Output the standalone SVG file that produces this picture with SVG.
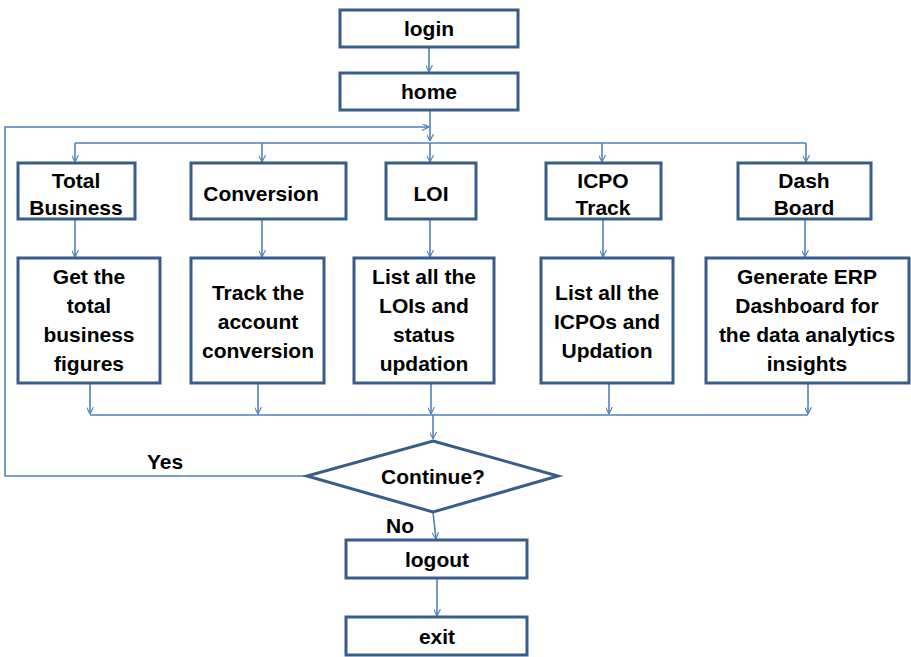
<svg xmlns="http://www.w3.org/2000/svg" width="911" height="657" viewBox="0 0 911 657">
  <style>
    .box { fill: #ffffff; stroke: #385d8a; stroke-width: 3; }
    .conn { fill: none; stroke: #4f81bd; stroke-width: 1.6; }
    .lbl { font-family: "Liberation Sans", Arial, sans-serif; font-weight: bold; font-size: 21px; fill: #000; text-anchor: middle; }
  </style>
  <defs>
    <marker id="arr" viewBox="0 0 10 10" refX="10" refY="5" markerWidth="7" markerHeight="7" orient="auto" markerUnits="userSpaceOnUse">
      <path d="M0,0 L10,5 L0,10" fill="none" stroke="#4f81bd" stroke-width="1.6"/>
    </marker>
  </defs>
  <rect width="911" height="657" fill="#ffffff"/>

  <!-- connectors -->
  <g id="connectors">
    <path class="conn" d="M429,47 V72" marker-end="url(#arr)"/>
    <path class="conn" d="M430,110 V141" marker-end="url(#arr)"/>
    <path class="conn" d="M75,143 H806"/>
    <path class="conn" d="M75,143 V162" marker-end="url(#arr)"/>
    <path class="conn" d="M262,143 V162" marker-end="url(#arr)"/>
    <path class="conn" d="M430,143 V162" marker-end="url(#arr)"/>
    <path class="conn" d="M602,143 V162" marker-end="url(#arr)"/>
    <path class="conn" d="M806,143 V162" marker-end="url(#arr)"/>
    <path class="conn" d="M75,219 V257" marker-end="url(#arr)"/>
    <path class="conn" d="M262,219 V257" marker-end="url(#arr)"/>
    <path class="conn" d="M430,219 V257" marker-end="url(#arr)"/>
    <path class="conn" d="M603,219 V257" marker-end="url(#arr)"/>
    <path class="conn" d="M805,219 V257" marker-end="url(#arr)"/>
    <path class="conn" d="M90,383 V414" marker-end="url(#arr)"/>
    <path class="conn" d="M258,383 V414" marker-end="url(#arr)"/>
    <path class="conn" d="M431,383 V414" marker-end="url(#arr)"/>
    <path class="conn" d="M609,383 V414" marker-end="url(#arr)"/>
    <path class="conn" d="M808,383 V414" marker-end="url(#arr)"/>
    <path class="conn" d="M90,415 H808"/>
    <path class="conn" d="M433,415 V439" marker-end="url(#arr)"/>
    <path class="conn" d="M306,476 H5 V127 H429" marker-end="url(#arr)"/>
    <path class="conn" d="M433,512 L436,539" marker-end="url(#arr)"/>
    <path class="conn" d="M437,578 V616" marker-end="url(#arr)"/>
    <text class="lbl" x="165" y="469">Yes</text>
    <text class="lbl" x="400" y="533">No</text>
  </g>

  <g id="login">
    <rect class="box" x="340" y="10" width="178" height="37"/>
    <text class="lbl" x="429" y="36">login</text>
  </g>
  <g id="home">
    <rect class="box" x="340" y="73" width="178" height="37"/>
    <text class="lbl" x="429" y="99">home</text>
  </g>

  <g id="total-business">
    <rect class="box" x="18" y="163" width="117" height="56"/>
    <text class="lbl" x="76" y="188">Total</text>
    <text class="lbl" x="76" y="215">Business</text>
  </g>
  <g id="conversion">
    <rect class="box" x="191" y="163" width="155" height="56"/>
    <text class="lbl" x="261" y="201">Conversion</text>
  </g>
  <g id="loi">
    <rect class="box" x="386" y="163" width="90" height="56"/>
    <text class="lbl" x="431" y="201">LOI</text>
  </g>
  <g id="icpo-track">
    <rect class="box" x="546" y="163" width="115" height="56"/>
    <text class="lbl" x="603" y="188">ICPO</text>
    <text class="lbl" x="603" y="215">Track</text>
  </g>
  <g id="dash-board">
    <rect class="box" x="738" y="163" width="133" height="56"/>
    <text class="lbl" x="804" y="188">Dash</text>
    <text class="lbl" x="804" y="215">Board</text>
  </g>

  <g id="total-figures">
    <rect class="box" x="18" y="258" width="142" height="125"/>
    <text class="lbl" x="89" y="284">Get the</text>
    <text class="lbl" x="89" y="313">total</text>
    <text class="lbl" x="89" y="342">business</text>
    <text class="lbl" x="89" y="371">figures</text>
  </g>
  <g id="track-conversion">
    <rect class="box" x="191" y="258" width="133" height="125"/>
    <text class="lbl" x="258" y="300">Track the</text>
    <text class="lbl" x="258" y="329">account</text>
    <text class="lbl" x="258" y="358">conversion</text>
  </g>
  <g id="list-lois">
    <rect class="box" x="354" y="258" width="140" height="125"/>
    <text class="lbl" x="424" y="284">List all the</text>
    <text class="lbl" x="424" y="313">LOIs and</text>
    <text class="lbl" x="424" y="342">status</text>
    <text class="lbl" x="424" y="371">updation</text>
  </g>
  <g id="list-icpos">
    <rect class="box" x="541" y="258" width="132" height="125"/>
    <text class="lbl" x="607" y="300">List all the</text>
    <text class="lbl" x="607" y="329">ICPOs and</text>
    <text class="lbl" x="607" y="358">Updation</text>
  </g>
  <g id="erp-dashboard">
    <rect class="box" x="706" y="258" width="203" height="125"/>
    <text class="lbl" x="807" y="284">Generate ERP</text>
    <text class="lbl" x="807" y="313">Dashboard for</text>
    <text class="lbl" x="807" y="342">the data analytics</text>
    <text class="lbl" x="807" y="371">insights</text>
  </g>

  <g id="continue">
    <polygon class="box" points="433,441 558,476 433,512 307,476"/>
    <text class="lbl" x="433" y="484">Continue?</text>
  </g>
  <g id="logout">
    <rect class="box" x="346" y="540" width="181" height="38"/>
    <text class="lbl" x="437" y="567">logout</text>
  </g>
  <g id="exit">
    <rect class="box" x="346" y="617" width="181" height="38"/>
    <text class="lbl" x="437" y="644">exit</text>
  </g>
</svg>
